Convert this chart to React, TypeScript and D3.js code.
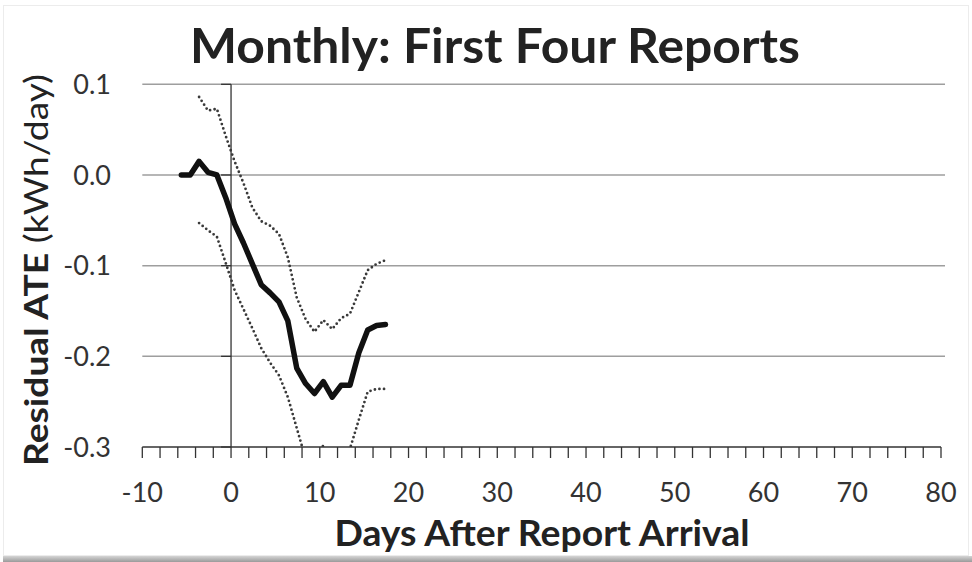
import React from "react";
import * as d3 from "d3";

// ---- data ----
const days = [-5.6, -4.6, -3.6, -2.6, -1.6, -0.6, 0.4, 1.4, 2.4, 3.4, 4.4, 5.4, 6.4, 7.4, 8.4, 9.4, 10.4, 11.4, 12.4, 13.4, 14.4, 15.4, 16.4, 17.4];
const residualATE = [0.0, 0.0, 0.015, 0.003, 0.0, -0.025, -0.054, -0.075, -0.098, -0.121, -0.13, -0.14, -0.161, -0.213, -0.23, -0.241, -0.228, -0.245, -0.232, -0.232, -0.196, -0.171, -0.166, -0.165];
const ciDays = [-3.6, -2.6, -1.6, -0.6, 0.4, 1.4, 2.4, 3.4, 4.4, 5.4, 6.4, 7.4, 8.4, 9.4, 10.4, 11.4, 12.4, 13.4, 14.4, 15.4, 16.4, 17.4];
const upperCI = [0.086, 0.071, 0.073, 0.043, 0.015, -0.009, -0.036, -0.051, -0.056, -0.065, -0.091, -0.135, -0.159, -0.173, -0.16, -0.17, -0.158, -0.153, -0.129, -0.105, -0.098, -0.094];
const lowerCI = [-0.053, -0.061, -0.068, -0.097, -0.127, -0.148, -0.169, -0.191, -0.207, -0.221, -0.245, -0.279, -0.313, -0.32, -0.298, -0.32, -0.315, -0.302, -0.27, -0.239, -0.236, -0.236];
const xTickLabels = [-10, 0, 10, 20, 30, 40, 50, 60, 70, 80];
const yTickLabels = [0.1, 0.0, -0.1, -0.2, -0.3];

const W = 972;
const H = 562;
const FONT = "Lato, 'Noto Sans', sans-serif";

export default function App() {
  const x = d3.scaleLinear().domain([-10, 80]).range([142.3, 941]);
  const y = d3.scaleLinear().domain([-0.3, 0.1]).range([447, 84.3]);
  const x0 = x(-10);
  const x1 = x(80);
  const yTop = y(0.1);
  const yBot = y(-0.3);

  const line = d3
    .line<[number, number]>()
    .x((d) => x(d[0]))
    .y((d) => y(d[1]));

  const mainPts = days.map((d, i) => [d, residualATE[i]] as [number, number]);
  const upPts = ciDays.map((d, i) => [d, upperCI[i]] as [number, number]);
  const loPts = ciDays.map((d, i) => [d, lowerCI[i]] as [number, number]);
  const minorTicks = d3.range(-10, 81, 2);

  return (
    <div style={{ position: "fixed", left: 0, top: 0 }}>
      <svg width={W} height={H} style={{ display: "block", background: "#fff" }}>
        <defs>
          <clipPath id="plot">
            <rect x={x0} y={yTop - 2} width={x1 - x0} height={yBot - yTop + 2} />
          </clipPath>
          <linearGradient id="shadow" x1="0" y1="0" x2="0" y2="1">
            <stop offset="0" stopColor="#d4d4d4" />
            <stop offset="1" stopColor="#9a9a9a" />
          </linearGradient>
        </defs>
        {/* frame */}
        <rect x={3.5} y={5.5} width={W - 7} height={550} fill="#fff" stroke="#ececec" strokeWidth={1} />
        <rect x={3} y={556} width={W - 3} height={6} fill="url(#shadow)" />

        {/* title */}
        <text
          x={495}
          y={63}
          textAnchor="middle"
          fontFamily={FONT}
          fontWeight={700}
          fontSize={47}
          textLength={610}
          lengthAdjust="spacingAndGlyphs"
          fill="#222"
        >
          Monthly: First Four Reports
        </text>

        {/* gridlines */}
        {yTickLabels
          .filter((v) => v > -0.3)
          .map((v) => (
            <line key={"g" + v} x1={x0} x2={945} y1={y(v)} y2={y(v)} stroke="#9e9e9e" strokeWidth={1.5} />
          ))}

        {/* y axis at x = 0 */}
        <line x1={x(0)} x2={x(0)} y1={yTop} y2={yBot} stroke="#333" strokeWidth={1.3} />
        {yTickLabels.map((v) => (
          <line key={"yt" + v} x1={x(0) - 10} x2={x(0)} y1={y(v)} y2={y(v)} stroke="#333" strokeWidth={1.3} />
        ))}

        {/* x axis */}
        <line x1={x0} x2={x1} y1={yBot} y2={yBot} stroke="#333" strokeWidth={1.5} />
        {minorTicks.map((t) => (
          <line key={"xt" + t} x1={x(t)} x2={x(t)} y1={yBot} y2={yBot + 11} stroke="#333" strokeWidth={1.3} />
        ))}

        {/* series */}
        <g clipPath="url(#plot)">
          <path d={line(upPts) || ""} fill="none" stroke="#3a3a3a" strokeWidth={2.8} strokeDasharray="0 4.6" strokeLinecap="round" />
          <path d={line(loPts) || ""} fill="none" stroke="#3a3a3a" strokeWidth={2.8} strokeDasharray="0 4.6" strokeLinecap="round" />
          <path d={line(mainPts) || ""} fill="none" stroke="#111" strokeWidth={5.5} strokeLinejoin="round" strokeLinecap="round" />
        </g>

        {/* y tick labels */}
        {yTickLabels.map((v) => (
          <text
            key={"yl" + v}
            x={111}
            y={y(v)}
            dy="0.36em"
            textAnchor="end"
            fontFamily={FONT}
            fontSize={27}
            fill="#333"
          >
            {d3.format(".1f")(v).replace("−", "-")}
          </text>
        ))}

        {/* x tick labels */}
        {xTickLabels.map((t) => (
          <text
            key={"xl" + t}
            x={x(t)}
            y={502}
            textAnchor="middle"
            fontFamily={FONT}
            fontSize={27}
            fill="#333"
          >
            {String(t)}
          </text>
        ))}

        {/* x axis title */}
        <text
          x={542}
          y={546}
          textAnchor="middle"
          fontFamily={FONT}
          fontWeight={700}
          fontSize={36}
          textLength={415}
          lengthAdjust="spacingAndGlyphs"
          fill="#222"
        >
          Days After Report Arrival
        </text>

        {/* y axis title */}
        <text
          transform="translate(48,270) rotate(-90)"
          textAnchor="middle"
          fontFamily={FONT}
          fontSize={32}
          textLength={392}
          lengthAdjust="spacingAndGlyphs"
          fill="#222"
        >
          <tspan fontWeight={700}>Residual ATE</tspan>
          <tspan fontWeight={400}>{" (kWh/day)"}</tspan>
        </text>
      </svg>
    </div>
  );
}
